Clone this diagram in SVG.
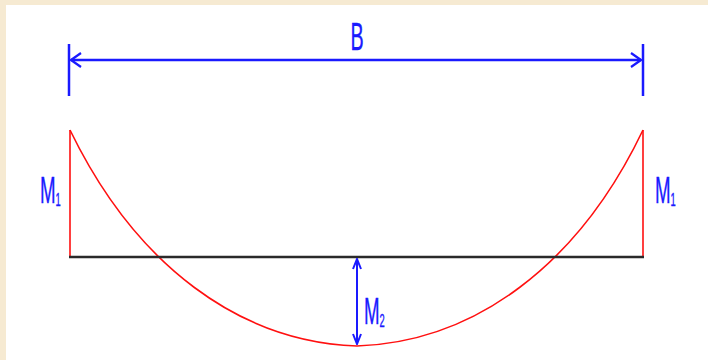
<svg xmlns="http://www.w3.org/2000/svg" width="708" height="360" viewBox="0 0 708 360">
  <style>
    .dim { stroke: #1a1aff; stroke-width: 2.5; fill: none; }
    .dimthin { stroke: #1a1aff; stroke-width: 2; fill: none; }
    .red { stroke: #ff1010; stroke-width: 1.6; fill: none; }
    .base { stroke: #2a2a2a; stroke-width: 2.5; fill: none; }
    .lbl { font-family: "Liberation Sans", Arial, sans-serif; fill: #1a1aff; stroke: #1a1aff; stroke-width: 0.4; }
  </style>
  <defs>
    <marker id="arr" viewBox="0 0 12 16" refX="11" refY="8" markerWidth="12" markerHeight="16" markerUnits="userSpaceOnUse" orient="auto-start-reverse">
      <path d="M1,1 L11,8 L1,15" fill="none" stroke="#1a1aff" stroke-width="2.2"/>
    </marker>
    <marker id="arrs" viewBox="0 0 12 10" refX="11" refY="5" markerWidth="12" markerHeight="10" markerUnits="userSpaceOnUse" orient="auto-start-reverse">
      <path d="M1,1 L11,5 L1,9" fill="none" stroke="#1a1aff" stroke-width="2"/>
    </marker>
  </defs>
  <rect x="0" y="0" width="708" height="360" fill="#f6ead2"/>
  <rect x="6" y="5" width="702" height="355" fill="#ffffff"/>

  <g id="diagram">
    <path class="red" d="M70,130 C136,266 240,342 357,346 C474,342 578,266 643,130"/>
    <line class="red" x1="70" y1="130" x2="70" y2="257"/>
    <line class="red" x1="643" y1="130" x2="643" y2="257"/>
    <line class="base" x1="69" y1="257" x2="644" y2="257"/>
  </g>

  <g id="connectors">
    <line class="dim" x1="69" y1="44" x2="69" y2="96"/>
    <line class="dim" x1="643" y1="44" x2="643" y2="96"/>
    <line class="dim" x1="71" y1="60" x2="641" y2="60" marker-start="url(#arr)" marker-end="url(#arr)"/>
    <line class="dimthin" x1="357" y1="259" x2="357" y2="344" marker-start="url(#arrs)" marker-end="url(#arrs)"/>
  </g>

  <g id="label-B">
    <text class="lbl" transform="translate(357,50) scale(0.52,1)" font-size="38" text-anchor="middle">B</text>
  </g>
  <g id="label-M1-left">
    <text class="lbl" transform="translate(40,203) scale(0.52,1)" font-size="36">M</text>
    <text class="lbl" transform="translate(55.5,206) scale(0.52,1)" font-size="18">1</text>
  </g>
  <g id="label-M1-right">
    <text class="lbl" transform="translate(655,203) scale(0.52,1)" font-size="36">M</text>
    <text class="lbl" transform="translate(670.5,206) scale(0.52,1)" font-size="18">1</text>
  </g>
  <g id="label-M2">
    <text class="lbl" transform="translate(364,324) scale(0.52,1)" font-size="36">M</text>
    <text class="lbl" transform="translate(379.5,327) scale(0.52,1)" font-size="18">2</text>
  </g>
</svg>
